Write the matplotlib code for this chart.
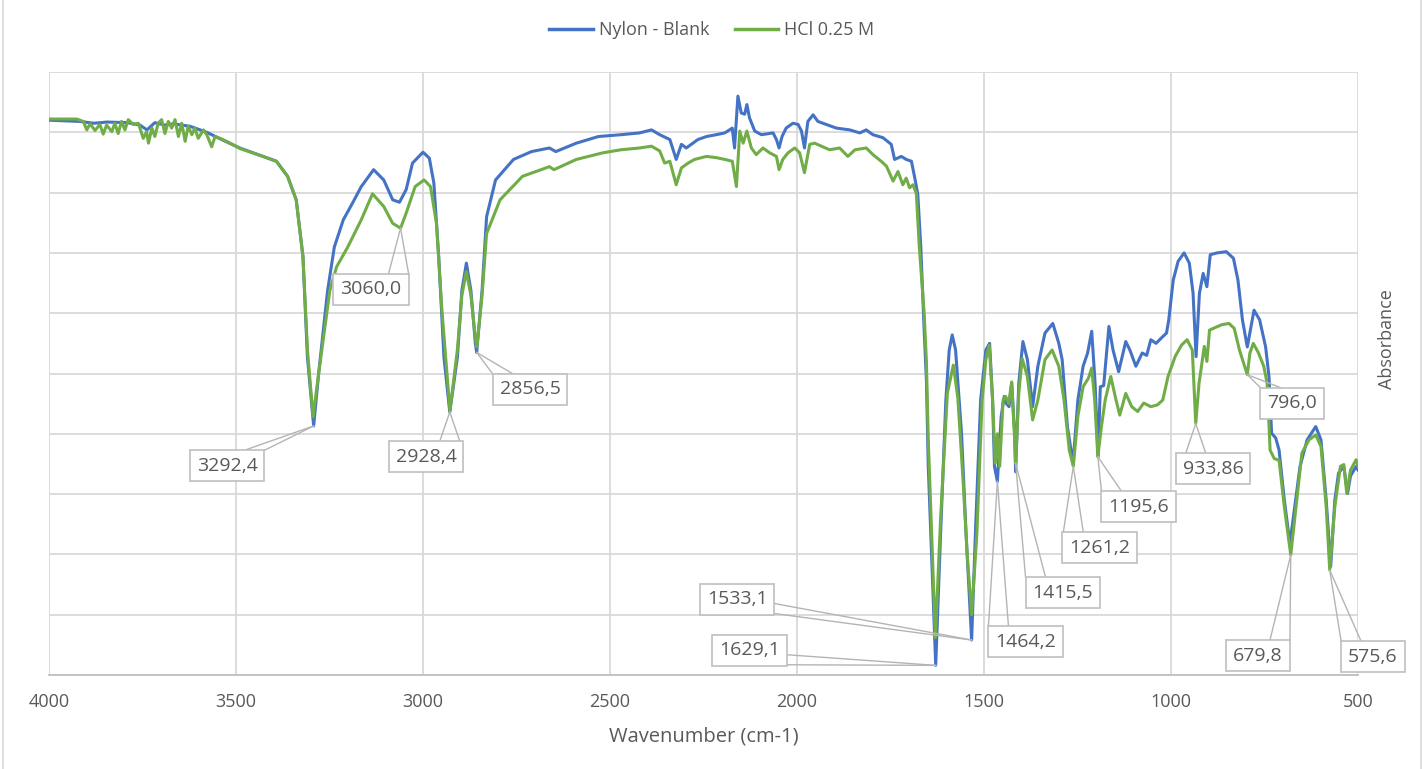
import numpy as np
import matplotlib
matplotlib.use("Agg")
import matplotlib.pyplot as plt
from matplotlib.lines import Line2D
from matplotlib.patches import Rectangle
from matplotlib.transforms import IdentityTransform

plt.rcParams['font.family'] = ['Open Sans', 'DejaVu Sans']

# spectra: wavenumber (cm-1) and absorbance (chart units)
blank_wn = [3997, 3960, 3917, 3880, 3845, 3790, 3757, 3738, 3717, 3690, 3668, 3623, 3578, 3535, 3490,
            3428, 3392, 3362, 3339, 3321, 3309, 3292.4, 3279, 3255, 3237, 3213, 3189, 3165, 3132, 3105,
            3081, 3063, 3045, 3028, 3000, 2983, 2971, 2958, 2944, 2928.4, 2908, 2896, 2884, 2872, 2860,
            2856.5, 2842, 2830, 2806, 2758, 2710, 2662, 2645, 2590, 2531, 2471, 2421, 2389, 2367, 2340,
            2323, 2309, 2296, 2265, 2242, 2216, 2193, 2173, 2167, 2158, 2149, 2140, 2134, 2127, 2113,
            2095, 2064, 2055, 2048, 2040, 2029, 2011, 1997, 1988, 1980, 1971, 1957, 1944, 1922, 1895,
            1859, 1832, 1815, 1797, 1770, 1748, 1739, 1721, 1708, 1694, 1685, 1677, 1669, 1660, 1654,
            1649, 1639, 1629.1, 1616, 1602, 1593, 1585, 1576, 1560, 1548, 1533.1, 1523, 1509, 1495, 1485,
            1477, 1472, 1464.2, 1454, 1446, 1440, 1433, 1426, 1418, 1415.5, 1407, 1396, 1384, 1370, 1356,
            1337, 1316, 1300, 1291, 1277, 1262, 1249, 1235, 1223, 1212, 1203, 1195, 1189, 1180, 1166,
            1155, 1140, 1121, 1110, 1094, 1077, 1065, 1054, 1040, 1024, 1012, 1006, 994, 981, 965,
            951, 941, 933, 924, 914, 904, 895, 877, 852, 833, 821, 809, 796, 778, 763,
            747, 738, 731, 720, 711, 697, 682, 669, 655, 636, 613, 599, 585, 573, 562,
            552, 538, 528, 520, 505, 500]
blank_abs = [9.20, 9.19, 9.18, 9.15, 9.17, 9.16, 9.12, 9.04, 9.16, 9.12, 9.14, 9.10, 9.00, 8.87, 8.74,
             8.60, 8.52, 8.27, 7.88, 6.94, 5.27, 4.13, 5.00, 6.38, 7.10, 7.55, 7.82, 8.10, 8.38, 8.21,
             7.88, 7.84, 8.05, 8.49, 8.67, 8.57, 8.16, 6.94, 5.27, 4.36, 5.27, 6.38, 6.83, 6.38, 5.50,
             5.35, 6.38, 7.60, 8.21, 8.55, 8.68, 8.74, 8.68, 8.82, 8.93, 8.96, 8.99, 9.04, 8.96, 8.88,
             8.55, 8.80, 8.74, 8.88, 8.93, 8.96, 8.99, 9.07, 8.74, 9.60, 9.32, 9.30, 9.46, 9.24, 9.02,
             8.96, 8.99, 8.88, 8.74, 8.93, 9.07, 9.15, 9.13, 9.02, 8.74, 9.18, 9.29, 9.18, 9.13, 9.07,
             9.04, 8.99, 9.04, 8.96, 8.91, 8.80, 8.55, 8.60, 8.55, 8.52, 8.24, 7.97, 7.10, 5.72, 4.89,
             3.46, 1.80, 0.16, 2.35, 4.56, 5.39, 5.64, 5.39, 4.00, 2.35, 0.58, 2.35, 4.56, 5.39, 5.50,
             4.56, 3.46, 3.21, 4.29, 4.62, 4.50, 4.45, 4.84, 4.00, 3.37, 4.84, 5.53, 5.23, 4.45, 5.12,
             5.67, 5.83, 5.50, 5.23, 4.12, 3.51, 4.56, 5.12, 5.34, 5.70, 4.84, 3.62, 4.78, 4.80, 5.78,
             5.39, 5.03, 5.53, 5.39, 5.12, 5.34, 5.30, 5.56, 5.50, 5.60, 5.67, 5.89, 6.55, 6.86, 7.00,
             6.83, 6.33, 5.28, 6.33, 6.66, 6.44, 6.97, 7.00, 7.02, 6.91, 6.55, 5.89, 5.44, 6.05, 5.89,
             5.44, 4.95, 4.01, 3.93, 3.73, 2.90, 2.18, 2.79, 3.46, 3.90, 4.12, 3.90, 2.90, 1.80, 2.90,
             3.35, 3.46, 3.01, 3.30, 3.46, 3.40]

hcl_wn = [3997, 3926, 3908, 3899, 3890, 3877, 3864, 3855, 3846, 3832, 3824, 3815, 3806, 3797, 3788,
          3775, 3761, 3748, 3739, 3734, 3725, 3717, 3708, 3699, 3690, 3681, 3672, 3663, 3654, 3645,
          3636, 3628, 3618, 3610, 3601, 3587, 3578, 3565, 3556, 3543, 3525, 3507, 3489,
          3428, 3392, 3362, 3339, 3321, 3309, 3294, 3279, 3249, 3231, 3201, 3165, 3135, 3105, 3081,
          3060.0, 3045, 3021, 2997, 2980, 2964, 2950, 2928, 2908, 2896, 2884, 2872, 2860, 2856, 2842,
          2830, 2794, 2734, 2662, 2650, 2590, 2519, 2471, 2421, 2389, 2367, 2354, 2340, 2323, 2309,
          2291, 2274, 2242, 2216, 2193, 2173, 2162, 2153, 2144, 2134, 2122, 2109, 2091, 2073, 2055,
          2048, 2038, 2024, 2006, 1993, 1980, 1966, 1953, 1935, 1913, 1886, 1864, 1845, 1815, 1797,
          1775, 1761, 1743, 1730, 1717, 1708, 1699, 1690, 1681, 1673, 1660, 1654, 1649, 1639, 1630,
          1616, 1598, 1582, 1570, 1556, 1545, 1533, 1519, 1505, 1495, 1486, 1477, 1470, 1464, 1458,
          1449, 1442, 1434, 1426, 1418, 1415.5, 1407, 1398, 1384, 1370, 1356, 1337, 1318, 1300, 1286,
          1272, 1261.2, 1249, 1235, 1221, 1212, 1204, 1195.6, 1186, 1176, 1161, 1147, 1137, 1121, 1105,
          1089, 1073, 1054, 1036, 1022, 1008, 989, 972, 957, 943, 933.86, 925, 911, 904, 897,
          864, 845, 831, 817, 796.0, 789, 780, 766, 752, 743, 735, 724, 711, 697, 679.8,
          669, 650, 631, 613, 599, 585, 575.6, 562, 547, 538, 530, 520, 505, 500]
hcl_abs = [9.22, 9.22, 9.18, 9.04, 9.14, 9.03, 9.13, 8.97, 9.12, 9.01, 9.15, 8.98, 9.18, 9.04, 9.21,
           9.13, 9.15, 8.90, 9.01, 8.82, 9.07, 8.93, 9.15, 9.21, 8.98, 9.18, 9.07, 9.21, 8.93, 9.15,
           8.85, 9.10, 8.96, 9.07, 8.90, 9.04, 8.96, 8.76, 8.93, 8.90, 8.85, 8.79, 8.73,
           8.60, 8.52, 8.27, 7.88, 6.94, 5.40, 4.28, 5.00, 6.38, 6.77, 7.10, 7.55, 7.98, 7.77, 7.49,
           7.41, 7.66, 8.10, 8.21, 8.10, 7.49, 6.10, 4.38, 5.40, 6.30, 6.69, 6.30, 5.60, 5.44, 6.30,
           7.32, 7.88, 8.27, 8.43, 8.38, 8.55, 8.66, 8.71, 8.74, 8.77, 8.69, 8.49, 8.52, 8.13, 8.41,
           8.49, 8.55, 8.60, 8.58, 8.55, 8.52, 8.10, 9.02, 8.82, 9.02, 8.74, 8.63, 8.74, 8.66, 8.60,
           8.38, 8.55, 8.66, 8.74, 8.66, 8.33, 8.80, 8.82, 8.77, 8.71, 8.74, 8.60, 8.71, 8.74, 8.63,
           8.52, 8.44, 8.19, 8.35, 8.13, 8.24, 8.08, 8.13, 7.99, 7.10, 6.00, 5.20, 3.90, 2.20, 0.62,
           2.60, 4.67, 5.14, 4.60, 3.23, 2.00, 1.00, 2.35, 4.56, 5.23, 5.47, 4.56, 3.51, 4.00, 3.46,
           4.56, 4.62, 4.50, 4.86, 3.90, 3.51, 4.67, 5.25, 4.95, 4.23, 4.56, 5.23, 5.39, 5.12, 4.56,
           3.73, 3.46, 4.29, 4.78, 4.92, 5.09, 4.56, 3.62, 4.12, 4.56, 4.95, 4.56, 4.31, 4.67, 4.45,
           4.37, 4.51, 4.45, 4.48, 4.56, 4.95, 5.28, 5.47, 5.56, 5.39, 4.17, 4.84, 5.45, 5.20, 5.72,
           5.81, 5.83, 5.75, 5.39, 4.98, 5.34, 5.50, 5.34, 5.12, 4.84, 3.73, 3.59, 3.56, 2.79, 1.99,
           2.60, 3.68, 3.90, 3.98, 3.79, 2.79, 1.74, 2.79, 3.46, 3.49, 3.01, 3.40, 3.57, 3.46]

# peak labels
peak_wn = [3292.4, 3060.0, 2928.4, 2856.5, 1629.1, 1533.1, 1464.2,
           1415.5, 1261.2, 1195.6, 933.86, 796.0, 679.8, 575.6]
peak_text = ["3292,4", "3060,0", "2928,4", "2856,5", "1629,1", "1533,1", "1464,2",
             "1415,5", "1261,2", "1195,6", "933,86", "796,0", "679,8", "575,6"]
peak_series = ["blank", "hcl", "blank", "blank", "blank", "blank", "blank",
               "hcl", "hcl", "hcl", "hcl", "hcl", "hcl", "hcl"]

# where the label boxes sit (layout only)
label_pos = [(3524, 3.47), (3139, 6.40), (2992, 3.62), (2714, 4.74), (2126, 0.41), (2160, 1.26),
             (1388, 0.55), (1289, 1.36), (1190, 2.11), (1086, 2.79), (888, 3.42), (676, 4.51),
             (767, 0.32), (460, 0.30)]

BLUE = "#4472C4"
GREEN = "#70AD47"
GRID = "#D9D9D9"
TXT = "#595959"
LEADER = "#B4B4B4"

W, H = 1424, 769
fig = plt.figure(figsize=(W / 100, H / 100), dpi=100)
ax = fig.add_axes([49 / W, 1 - 675 / H, (1358 - 49) / W, (675 - 72) / H])

ax.plot(blank_wn, blank_abs, color=BLUE, lw=2.2, zorder=2, solid_joinstyle='round')
ax.plot(hcl_wn, hcl_abs, color=GREEN, lw=2.2, zorder=3, solid_joinstyle='round')

ax.set_xlim(4000, 500)
ax.set_ylim(0, 10)
ax.set_xticks(np.arange(4000, 499, -500))
ax.set_yticks(np.arange(0, 11, 1))
ax.set_yticklabels([])
ax.grid(True, color=GRID, lw=1.3)
ax.tick_params(length=0, labelsize=13, labelcolor=TXT, pad=13)
for s in ["top", "left", "right"]:
    ax.spines[s].set_visible(False)
ax.spines["bottom"].set_color("#BFBFBF")
ax.spines["bottom"].set_linewidth(1.3)
ax.set_axisbelow(True)

ax.set_xlabel("Wavenumber (cm-1)", fontsize=14.5, color=TXT, labelpad=11)
ax.yaxis.set_label_position("right")
ax.set_ylabel("Absorbance", fontsize=13, color=TXT)
ax.yaxis.set_label_coords(1.0155, 0.557)

handles = [Line2D([], [], color=BLUE, lw=2.5), Line2D([], [], color=GREEN, lw=2.5)]
fig.legend(handles, ["Nylon - Blank", "HCl 0.25 M"], loc="center", bbox_to_anchor=(0.5, 1 - 30 / H),
           ncol=2, frameon=False, fontsize=13, handlelength=2.4, handletextpad=0.35,
           columnspacing=1.4, labelcolor=TXT)

# outer chart border
fig.add_artist(Line2D([3 / W, 3 / W], [0, 1], color=GRID, lw=1.2, transform=fig.transFigure))
fig.add_artist(Line2D([1421 / W, 1421 / W], [0, 1], color=GRID, lw=1.2, transform=fig.transFigure))

series = {"blank": (blank_wn, blank_abs), "hcl": (hcl_wn, hcl_abs)}
texts = []
for wn, txt, pos in zip(peak_wn, peak_text, label_pos):
    t = ax.text(pos[0], pos[1], txt, ha="center", va="center", fontsize=14, color=TXT,
                zorder=7, clip_on=False)
    texts.append(t)

fig.canvas.draw()
r = fig.canvas.get_renderer()
for wn, ser, t in zip(peak_wn, peak_series, texts):
    xs, ys = series[ser]
    val = np.interp(wn, xs[::-1], ys[::-1])
    px, py = ax.transData.transform((wn, val))
    tb = t.get_window_extent(r)
    bw, bh = tb.width + 14, 31
    x0, y0 = (tb.x0 + tb.x1) / 2 - bw / 2, (tb.y0 + tb.y1) / 2 - bh / 2
    x1, y1 = x0 + bw, y0 + bh
    ax.add_patch(Rectangle((x0, y0), bw, bh, fc="white", ec="#BFBFBF", lw=1.2,
                           transform=IdentityTransform(), zorder=6, clip_on=False))
    if py > y1:
        cx = np.clip(px, x0 + 10, x1 - 10)
        base = [(cx - 10, y1), (cx + 10, y1)]
    elif px > x1:
        cy = np.clip(py, y0 + 6, y1 - 6)
        base = [(x1, cy - 5), (x1, cy + 5)]
    elif py < y0:
        cx = np.clip(px, x0 + 10, x1 - 10)
        base = [(cx - 10, y0), (cx + 10, y0)]
    else:
        cy = np.clip(py, y0 + 6, y1 - 6)
        base = [(x0, cy - 5), (x0, cy + 5)]
    for bx, by in base:
        ax.add_line(Line2D([bx, px], [by, py], color=LEADER, lw=1.0,
                           transform=IdentityTransform(), zorder=5, clip_on=False))

fig.savefig("out.png", dpi=100)
